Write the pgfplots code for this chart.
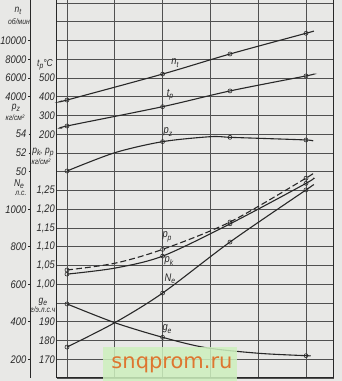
\documentclass[border=0pt]{standalone}
\usepackage{fontspec}
\setmainfont{Liberation Sans}[FakeStretch=0.85]
\newfontfamily\wmfont{DejaVu Sans}
\usepackage{pgfplots}
\usepackage{pgfplotstable}
\pgfplotsset{compat=1.18}
\definecolor{bg}{RGB}{232,232,230}
\definecolor{ink}{RGB}{40,40,40}
\definecolor{gridc}{RGB}{80,80,80}
\definecolor{wmgreen}{RGB}{205,240,190}
\definecolor{wmorange}{RGB}{222,118,48}
\newcommand{\sym}[2]{\textit{#1}\raisebox{-0.4ex}{\footnotesize\textit{#2}}}

% n_t, rpm
\pgfplotstableread{
x v
-0.1 3560
0 3650
2 6420
3.41 8560
5 10770
5.15 10980
}\nt
% t_p, deg C
\pgfplotstableread{
x v
-0.1 233
0 244
2 347
3.41 431
5 511
5.15 521
}\tp
% p_z, kg/cm2
\pgfplotstableread{
x v
0 50.08
1 52.03
2 53.21
3 53.74
3.41 53.67
4 53.57
5 53.39
5.15 53.28
}\pz
% p_p, kg/cm2
\pgfplotstableread{
x v
0 1.038
1 1.056
2 1.093
3.41 1.166
5 1.283
5.15 1.297
}\pp
% p_k, kg/cm2
\pgfplotstableread{
x v
0 1.027
1 1.043
2 1.075
3.41 1.161
5 1.269
5.15 1.283
}\pk
% N_e, hp
\pgfplotstableread{
x v
0 265
1 395
2 553
3.41 825
5 1103
5.15 1129
}\Ne
% g_e, g/hp h
\pgfplotstableread{
x v
0 199.5
1 189.5
2 181.7
2.9 176.2
4 173.2
5 171.9
5.08 171.9
}\ge

\pgfplotsset{
  curve/.style={ink, line width=1.1pt, smooth, mark=o, mark size=2pt,
    mark options={solid, fill=white, line width=0.6pt}},
  scaleax/.style={scale only axis, width=1pt, height=378pt, anchor=south west,
    xmin=0, xmax=1, hide x axis, axis y line=left, axis line style={-},
    scaled y ticks=false,
    major tick length=3pt, tick align=center, ytick style={ink, line width=0.6pt},
    yticklabel style={anchor=east, inner sep=0pt, xshift=-2pt,
      font=\itshape\fontsize{11}{11}\selectfont, text=ink}},
}

\begin{document}
\begin{tikzpicture}
\fill[bg] (-57pt,-3pt) rectangle (285pt,378pt);
\path[use as bounding box] (-57pt,-3pt) rectangle (285pt,378pt);

\begin{axis}[at={(0pt,0pt)}, anchor=south west, scale only axis,
  width=277pt, height=378pt,
  xmin=-0.209, xmax=5.586, ymin=0, ymax=20.16,
  xtick={0,...,5}, ytick={0,...,20}, xticklabels={}, yticklabels={},
  major tick length=0pt,
  grid=major, grid style={gridc, line width=0.6pt},
  axis line style={ink, line width=1pt},
  clip=false]
\addplot[curve, mark indices={2,3,4,5}] table[x=x, y expr={15+(\thisrow{v}-4000)/2000}] {\nt};
\addplot[curve, mark indices={2,3,4,5}] table[x=x, y expr={15+(\thisrow{v}-400)/100}] {\tp};
\addplot[curve, mark indices={1,3,5,7}] table[x=x, y expr={11+(\thisrow{v}-50)/2}] {\pz};
\addplot[curve, dash pattern=on 6pt off 3pt, mark indices={1,3,4,5}] table[x=x, y expr={5+(\thisrow{v}-1)/0.05}] {\pp};
\addplot[curve, mark indices={1,3,4,5}] table[x=x, y expr={5+(\thisrow{v}-1)/0.05}] {\pk};
\addplot[curve, mark indices={1,3,4,5}] table[x=x, y expr={1+(\thisrow{v}-200)/100}] {\Ne};
\addplot[curve, mark indices={1,3,6}] table[x=x, y expr={1+(\thisrow{v}-170)/10}] {\ge};
\end{axis}

% outer scales
\begin{axis}[scaleax, at={(-27pt,0pt)}, ymin=-26000, ymax=14320,
  ytick={4000,6000,8000,10000}, yticklabels={4000,6000,8000,10000},
  y axis line style={ink, line width=0.8pt}]
\end{axis}
\begin{axis}[scaleax, at={(-27pt,0pt)}, ymin=28, ymax=68.32,
  ytick={50,52,54}, yticklabels={50,52,54}, y axis line style={draw=none}]
\end{axis}
\begin{axis}[scaleax, at={(-27pt,0pt)}, ymin=100, ymax=2116,
  ytick={200,400,600,800,1000}, yticklabels={200,400,600,800,1000}, y axis line style={draw=none}]
\end{axis}
% inner scales
\begin{axis}[scaleax, at={(0pt,0pt)}, ymin=-1100, ymax=916, major tick length=0pt,
  ytick={200,300,400,500}, yticklabels={200,300,400,500}, y axis line style={draw=none}]
\end{axis}
\begin{axis}[scaleax, at={(0pt,0pt)}, ymin=0.75, ymax=1.758, major tick length=0pt,
  ytick={1.00,1.05,1.10,1.15,1.20,1.25}, yticklabels={{1,00},{1,05},{1,10},{1,15},{1,20},{1,25}}, y axis line style={draw=none}]
\end{axis}
\begin{axis}[scaleax, at={(0pt,0pt)}, ymin=160, ymax=361.6, major tick length=0pt,
  ytick={170,180,190}, yticklabels={170,180,190}, y axis line style={draw=none}]
\end{axis}

% scale titles
\begin{scope}[every node/.style={text=ink, inner sep=0pt, font=\itshape\fontsize{10}{10}\selectfont}]
\node at (-39pt,367pt) {\sym{n}{t}};
\node[font=\itshape\fontsize{8}{8}\selectfont] at (-38pt,356pt) {об/мин};
\node at (-12pt,313pt) {\sym{t}{p}°C};
\node at (-41pt,270pt) {\sym{p}{z}};
\node[font=\itshape\fontsize{8}{8}\selectfont] at (-42pt,260pt) {кг/см²};
\node at (-14pt,225pt) {\sym{p}{k}, \sym{p}{p}};
\node[font=\itshape\fontsize{8}{8}\selectfont] at (-16pt,216pt) {кг/см²};
\node at (-38pt,194pt) {\sym{N}{e}};
\node[font=\itshape\fontsize{8}{8}\selectfont] at (-36pt,185pt) {л.с.};
\node at (-14pt,76pt) {\sym{g}{e}};
\node[font=\itshape\fontsize{8}{8}\selectfont] at (-14pt,68pt) {г/э.л.с.ч};
\end{scope}

% curve labels
\begin{scope}[every node/.style={text=ink, inner sep=0pt, font=\itshape\fontsize{11}{11}\selectfont}]
\node at (118pt,315pt) {\sym{n}{t}};
\node at (113pt,283pt) {\sym{t}{p}};
\node at (111pt,246pt) {\sym{p}{z}};
\node at (110pt,141pt) {\sym{p}{p}};
\node at (112pt,117pt) {\sym{p}{k}};
\node at (113pt,99pt) {\sym{N}{e}};
\node at (110pt,49pt) {\sym{g}{e}};
\end{scope}

% watermark
\fill[wmgreen, opacity=0.85] (46pt,-3pt) rectangle (180pt,31pt);
\node[text=wmorange, inner sep=0pt, font=\wmfont\fontsize{21}{21}\selectfont] at (115pt,13pt) {snqprom.ru};
\end{tikzpicture}
\end{document}
